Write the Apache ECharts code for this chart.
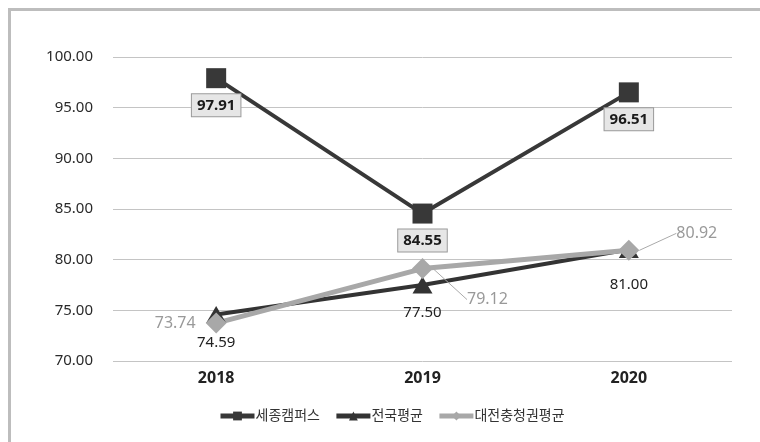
<!DOCTYPE html>
<html>
<head>
<meta charset="utf-8">
<style>
html,body{margin:0;padding:0;background:#fff;}
#c{width:760px;height:442px;}
</style>
<script src="https://cdn.jsdelivr.net/npm/echarts@6/dist/echarts.min.js"></script>
</head>
<body>
<div id="c"></div>
<script>
const categories = ['2018', '2019', '2020'];
const sejong = [97.91, 84.55, 96.51];
const national = [74.59, 77.50, 81.00];
const daejeon = [73.74, 79.12, 80.92];
const seriesNames = ['세종캠퍼스', '전국평균', '대전충청권평균'];
const yTicks = { min: 70, max: 100, interval: 5 };

const FONT = '"Noto Sans", "Noto Sans CJK KR", sans-serif';
const chart = echarts.init(document.getElementById('c'), null, { renderer: 'canvas' });

const fmt = p => Number(p.value).toFixed(2);

chart.setOption({
  animation: false,
  textStyle: { fontFamily: FONT },
  graphic: [{
    type: 'rect',
    shape: { x: 9.5, y: 9.5, width: 900, height: 600 },
    style: { fill: 'none', stroke: '#bdbdbd', lineWidth: 3 },
    silent: true, z: -10
  }],
  grid: { left: 113, right: 28, top: 57, bottom: 81, containLabel: false },
  legend: {
    left: 213, top: 404,
    itemWidth: 34, itemHeight: 11, itemGap: 14,
    lineStyle: { width: 5 },
    textStyle: { fontSize: 14, color: '#333', fontFamily: FONT, padding: [0, 0, 0, -4] },
    data: seriesNames
  },
  xAxis: {
    type: 'category',
    data: categories,
    boundaryGap: true,
    axisLine: { show: false },
    axisTick: { show: false },
    axisLabel: { fontSize: 16, fontWeight: 'bold', color: '#222', margin: 9, fontFamily: FONT }
  },
  yAxis: {
    type: 'value',
    min: yTicks.min, max: yTicks.max, interval: yTicks.interval,
    axisLine: { show: false },
    axisTick: { show: false },
    splitLine: { lineStyle: { color: '#c4c4c4', width: 1 } },
    axisLabel: { fontSize: 15, color: '#2a2a2a', margin: 20, formatter: v => v.toFixed(2), fontFamily: FONT }
  },
  series: [
    {
      name: seriesNames[0],
      type: 'line',
      data: sejong,
      symbol: 'rect', symbolSize: 20,
      lineStyle: { color: '#383838', width: 4 },
      itemStyle: { color: '#383838' },
      label: {
        show: true, position: 'bottom', distance: 6,
        formatter: fmt,
        fontSize: 15, fontWeight: 'bold', color: '#1a1a1a',
        backgroundColor: '#e6e6e6', borderColor: '#9a9a9a', borderWidth: 1,
        padding: [4, 5, 3, 5], fontFamily: FONT
      }
    },
    {
      name: seriesNames[1],
      type: 'line',
      data: national.map((v, i) => i === 2 ? { value: v, label: { distance: 19 } } : v),
      symbol: 'triangle', symbolSize: [20, 17],
      lineStyle: { color: '#333333', width: 4 },
      itemStyle: { color: '#333333' },
      label: {
        show: true, position: 'bottom', distance: 12,
        formatter: fmt,
        fontSize: 15, color: '#222', fontFamily: FONT
      }
    },
    {
      name: seriesNames[2],
      type: 'line',
      data: daejeon.map((v, i) => i === 0
        ? { value: v, label: { position: 'left', distance: 10 }, labelLine: { show: false } }
        : { value: v }),
      symbol: 'diamond', symbolSize: 21,
      lineStyle: { color: '#a8a8a8', width: 5 },
      itemStyle: { color: '#a8a8a8' },
      label: {
        show: true, position: 'right', distance: 4,
        formatter: fmt,
        fontSize: 16, color: '#999', fontFamily: FONT
      },
      labelLine: { show: true, lineStyle: { color: '#aaa', width: 1 } },
      labelLayout: function (p) {
        if (p.dataIndex === 1) return { dx: 30, dy: 31 };
        if (p.dataIndex === 2) return { dx: 33, dy: -17 };
        return {};
      }
    }
  ]
});
</script>
</body>
</html>
